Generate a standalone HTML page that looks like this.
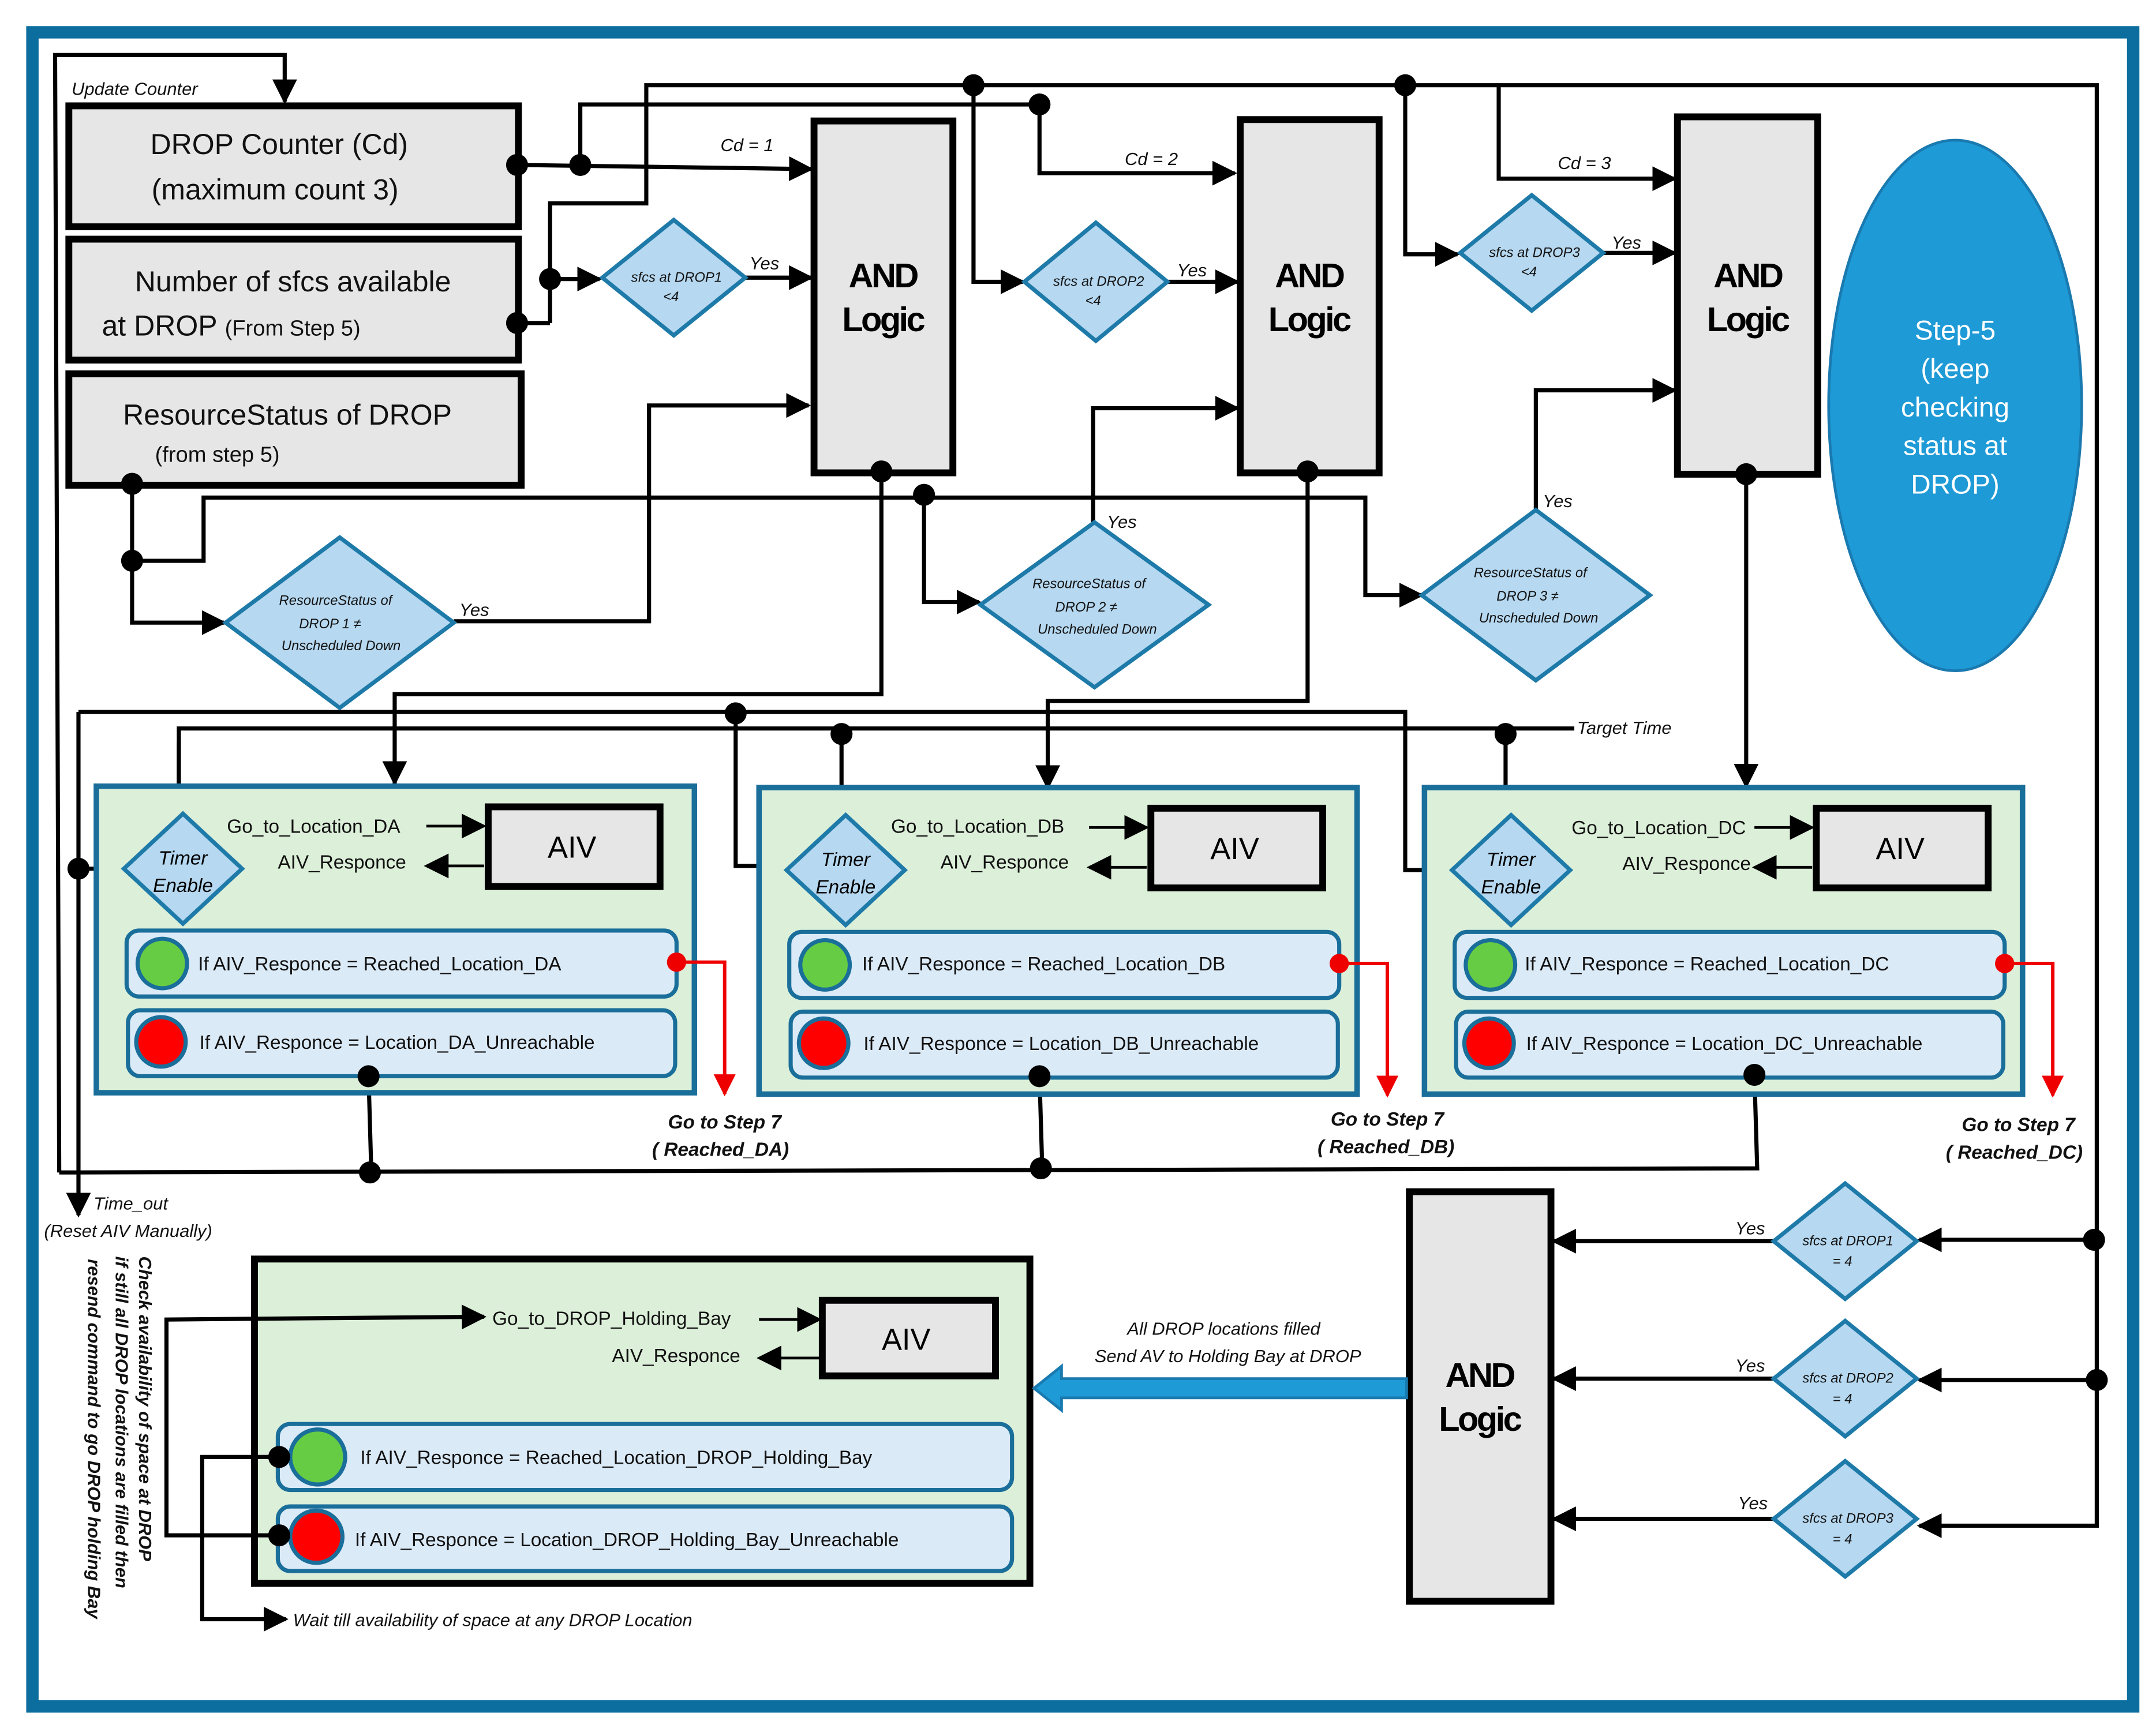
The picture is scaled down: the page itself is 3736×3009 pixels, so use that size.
<!DOCTYPE html>
<html><head><meta charset="utf-8"><style>
html,body{margin:0;padding:0;background:#fff;}
svg{display:block;}
text{font-family:"Liberation Sans",sans-serif;}
</style></head><body>
<svg width="3736" height="3009" viewBox="0 0 1568 1263" xmlns="http://www.w3.org/2000/svg">
<defs>
<marker id="b" viewBox="0 0 10 10" refX="9" refY="5" markerWidth="18" markerHeight="18" markerUnits="userSpaceOnUse" orient="auto"><path d="M0,0 L10,5 L0,10z" fill="#000"/></marker>
<marker id="r" viewBox="0 0 10 10" refX="9" refY="5" markerWidth="16" markerHeight="16" markerUnits="userSpaceOnUse" orient="auto"><path d="M0,0 L10,5 L0,10z" fill="#e00"/></marker>
</defs>
<rect x="0" y="0" width="1568" height="1263" fill="#fff"/>
<rect x="23.5" y="23.5" width="1528" height="1218" fill="#fff" stroke="#0b6e9e" stroke-width="9"/>

<g fill="none" stroke="#000" stroke-width="3">
<polyline points="43,853 40,40 207,40 207,74" marker-end="url(#b)"/>
<polyline points="43,853 1278,850 1276,782"/>
<polyline points="57,518 1022,518 1022,633 1053,633"/>
<polyline points="57,518 57,884" marker-end="url(#b)"/>
<line x1="57" y1="632" x2="90" y2="632"/>
<polyline points="535,518 535,630 570,630"/>
<polyline points="130,570 130,530 1145,530"/>
<line x1="130" y1="540" x2="130" y2="590" marker-end="url(#b)"/>
<line x1="612" y1="530" x2="612" y2="592" marker-end="url(#b)"/>
<line x1="1095" y1="530" x2="1095" y2="593" marker-end="url(#b)"/>
<polyline points="400,235 400,148 470,148 470,62 1525,62 1525,1110 1396,1110" marker-end="url(#b)"/>
<line x1="376" y1="235" x2="400" y2="235"/>
<line x1="400" y1="203" x2="436" y2="203" marker-end="url(#b)"/>
<line x1="376" y1="120" x2="590" y2="123" marker-end="url(#b)"/>
<polyline points="422,120 422,76 756,76 756,126 898,126" marker-end="url(#b)"/>
<polyline points="708,62 708,205 744,205" marker-end="url(#b)"/>
<polyline points="1022,62 1022,185 1060,185" marker-end="url(#b)"/>
<polyline points="1090,62 1090,130 1218,130" marker-end="url(#b)"/>
<line x1="542" y1="202" x2="590" y2="202" marker-end="url(#b)"/>
<line x1="849" y1="205" x2="900" y2="205" marker-end="url(#b)"/>
<line x1="1166" y1="184" x2="1218" y2="184" marker-end="url(#b)"/>
<polyline points="96,352 96,453 163,453" marker-end="url(#b)"/>
<polyline points="96,408 148,408 148,362 993,362 993,433 1034,433" marker-end="url(#b)"/>
<polyline points="672,360 672,438 712,438" marker-end="url(#b)"/>
<polyline points="330,452 472,452 472,295 588,295" marker-end="url(#b)"/>
<polyline points="795,380 795,297 900,297" marker-end="url(#b)"/>
<polyline points="1117,372 1117,284 1218,284" marker-end="url(#b)"/>
<polyline points="641,343 641,505 287,505 287,570" marker-end="url(#b)"/>
<polyline points="951,343 951,510 762,510 762,573" marker-end="url(#b)"/>
<line x1="1270" y1="345" x2="1270" y2="572" marker-end="url(#b)"/>
<line x1="268" y1="783" x2="270" y2="853"/>
<line x1="756" y1="783" x2="758" y2="850"/>
<line x1="1525" y1="902" x2="1396" y2="902" marker-end="url(#b)"/>
<line x1="1525" y1="1004" x2="1396" y2="1004" marker-end="url(#b)"/>
<line x1="1290" y1="903" x2="1130" y2="903" marker-end="url(#b)"/>
<line x1="1290" y1="1003" x2="1130" y2="1003" marker-end="url(#b)"/>
<line x1="1290" y1="1105" x2="1130" y2="1105" marker-end="url(#b)"/>
</g>

<g stroke="#000" stroke-width="5" fill="#e6e6e6">
<rect x="50" y="77" width="327" height="88"/>
<rect x="50" y="174" width="327" height="88"/>
<rect x="50" y="272" width="329" height="81"/>
<rect x="592" y="88" width="101" height="256"/>
<rect x="902" y="87" width="101" height="257"/>
<rect x="1220" y="85" width="102" height="260"/>
<rect x="1025" y="867" width="103" height="298"/>
</g>
<g font-size="21" text-anchor="middle" fill="#111">
<text x="203" y="112">DROP Counter (Cd)</text>
<text x="200" y="145">(maximum count 3)</text>
<text x="213" y="212">Number of sfcs available</text>
<text x="74" y="244" text-anchor="start">at DROP <tspan font-size="16">(From Step 5)</tspan></text>
<text x="209" y="309">ResourceStatus of DROP</text>
<text x="158" y="336" font-size="16">(from step 5)</text>
</g>
<g font-size="25" font-weight="bold" text-anchor="middle" fill="#000" letter-spacing="-1.5">
<text x="642" y="209">AND</text><text x="642" y="241">Logic</text>
<text x="952" y="209">AND</text><text x="952" y="241">Logic</text>
<text x="1271" y="209">AND</text><text x="1271" y="241">Logic</text>
<text x="1076" y="1009">AND</text><text x="1076" y="1041">Logic</text>
</g>

<g fill="#b6d8f0" stroke="#1e7aa8" stroke-width="3">
<polygon points="490,160 542,202 490,244 438,202"/>
<polygon points="797,162 849,205 797,248 745,205"/>
<polygon points="1114,142 1166,184 1114,226 1062,184"/>
<polygon points="247,391 330,453 247,515 164,453"/>
<polygon points="796,380 879,440 796,500 713,440"/>
<polygon points="1117,371 1200,433 1117,495 1034,433"/>
<polygon points="1342,861 1394,903 1342,945 1290,903"/>
<polygon points="1342,961 1394,1003 1342,1045 1290,1003"/>
<polygon points="1342,1063 1394,1105 1342,1147 1290,1105"/>
</g>
<g font-size="10" font-style="italic" text-anchor="middle" fill="#111">
<text x="492" y="205">sfcs at DROP1</text><text x="488" y="219">&lt;4</text>
<text x="799" y="208">sfcs at DROP2</text><text x="795" y="222">&lt;4</text>
<text x="1116" y="187">sfcs at DROP3</text><text x="1112" y="201">&lt;4</text>
<text x="244" y="440">ResourceStatus of</text><text x="240" y="457">DROP 1 ≠</text><text x="248" y="473">Unscheduled Down</text>
<text x="792" y="428">ResourceStatus of</text><text x="790" y="445">DROP 2 ≠</text><text x="798" y="461">Unscheduled Down</text>
<text x="1113" y="420">ResourceStatus of</text><text x="1111" y="437">DROP 3 ≠</text><text x="1119" y="453">Unscheduled Down</text>
<text x="1344" y="906">sfcs at DROP1</text><text x="1340" y="921">= 4</text>
<text x="1344" y="1006">sfcs at DROP2</text><text x="1340" y="1021">= 4</text>
<text x="1344" y="1108">sfcs at DROP3</text><text x="1340" y="1123">= 4</text>
</g>
<g font-size="13" font-style="italic" fill="#111">
<text x="52" y="69">Update Counter</text>
<text x="524" y="110">Cd = 1</text>
<text x="818" y="120">Cd = 2</text>
<text x="1133" y="123">Cd = 3</text>
<text x="545" y="196">Yes</text><text x="856" y="201">Yes</text><text x="1172" y="181">Yes</text>
<text x="334" y="448">Yes</text><text x="805" y="384">Yes</text><text x="1122" y="369">Yes</text>
<text x="1262" y="898">Yes</text><text x="1262" y="998">Yes</text><text x="1264" y="1098">Yes</text>
<text x="1147" y="534">Target Time</text>
<text x="68" y="880">Time_out</text>
<text x="32" y="900">(Reset AIV Manually)</text>
<text x="213" y="1183">Wait till availability of space at any DROP Location</text>
<text x="890" y="971" text-anchor="middle">All DROP locations filled</text>
<text x="893" y="991" text-anchor="middle">Send AV to Holding Bay at DROP</text>
</g>

<ellipse cx="1422" cy="295" rx="92" ry="193" fill="#1e9ad6" stroke="#1a7ab0" stroke-width="2"/>
<g font-size="20" fill="#fff" text-anchor="middle">
<text x="1422" y="247">Step-5</text><text x="1422" y="275">(keep</text><text x="1422" y="303">checking</text><text x="1422" y="331">status at</text><text x="1422" y="359">DROP)</text>
</g>

<g id="ga">
<rect x="70" y="572" width="435" height="223" fill="#dcefd9" stroke="#1a6e9a" stroke-width="4"/>
<polygon points="133,592 176,632 133,672 90,632" fill="#b6d8f0" stroke="#1e7aa8" stroke-width="3"/>
<text x="133" y="629" font-size="14" font-style="italic" text-anchor="middle">Timer</text>
<text x="133" y="649" font-size="14" font-style="italic" text-anchor="middle">Enable</text>
<rect x="355" y="587" width="125" height="58" fill="#e6e6e6" stroke="#000" stroke-width="5"/>
<text x="416" y="624" font-size="22" text-anchor="middle">AIV</text>
<line x1="310" y1="601" x2="352" y2="601" stroke="#000" stroke-width="2" marker-end="url(#b)"/>
<line x1="352" y1="630" x2="310" y2="630" stroke="#000" stroke-width="2" marker-end="url(#b)"/>
<rect x="92" y="677" width="400" height="48" rx="9" fill="#dbeaf7" stroke="#1a6e9a" stroke-width="3"/>
<rect x="93" y="735" width="398" height="48" rx="9" fill="#dbeaf7" stroke="#1a6e9a" stroke-width="3"/>
<circle cx="118" cy="701" r="18" fill="#66cc44" stroke="#1a6e9a" stroke-width="3"/>
<circle cx="117" cy="758" r="18" fill="#f00" stroke="#1a6e9a" stroke-width="3"/>
<polyline points="492,700 527,700 527,796" fill="none" stroke="#e00" stroke-width="2.5" marker-end="url(#r)"/>
<circle cx="492" cy="700" r="7" fill="#e00"/>
</g>
<g font-size="14" fill="#111">
<text x="165" y="606">Go_to_Location_DA</text><text x="202" y="632">AIV_Responce</text>
<text x="144" y="706">If AIV_Responce = Reached_Location_DA</text>
<text x="145" y="763">If AIV_Responce = Location_DA_Unreachable</text>
</g>
<use href="#ga" x="482" y="1"/>
<g font-size="14" fill="#111">
<text x="648" y="606">Go_to_Location_DB</text><text x="684" y="632">AIV_Responce</text>
<text x="627" y="706">If AIV_Responce = Reached_Location_DB</text>
<text x="628" y="764">If AIV_Responce = Location_DB_Unreachable</text>
</g>
<use href="#ga" x="966" y="1"/>
<g font-size="14" fill="#111">
<text x="1143" y="607">Go_to_Location_DC</text><text x="1180" y="633">AIV_Responce</text>
<text x="1109" y="706">If AIV_Responce = Reached_Location_DC</text>
<text x="1110" y="764">If AIV_Responce = Location_DC_Unreachable</text>
</g>
<g font-size="14" font-style="italic" font-weight="bold" fill="#111" text-anchor="middle">
<text x="527" y="821">Go to Step 7</text><text x="524" y="841">( Reached_DA)</text>
<text x="1009" y="819">Go to Step 7</text><text x="1008" y="839">( Reached_DB)</text>
<text x="1468" y="823">Go to Step 7</text><text x="1465" y="843">( Reached_DC)</text>
</g>

<rect x="185" y="916" width="564" height="236" fill="#dcefd9" stroke="#000" stroke-width="5"/>
<rect x="598" y="946" width="126" height="55" fill="#e6e6e6" stroke="#000" stroke-width="5"/>
<text x="659" y="982" font-size="22" text-anchor="middle">AIV</text>
<line x1="552" y1="960" x2="596" y2="960" stroke="#000" stroke-width="2" marker-end="url(#b)"/>
<line x1="596" y1="988" x2="552" y2="988" stroke="#000" stroke-width="2" marker-end="url(#b)"/>
<rect x="202" y="1036" width="534" height="48" rx="9" fill="#dbeaf7" stroke="#1a6e9a" stroke-width="3"/>
<rect x="202" y="1096" width="534" height="47" rx="9" fill="#dbeaf7" stroke="#1a6e9a" stroke-width="3"/>
<circle cx="231" cy="1060" r="20" fill="#66cc44" stroke="#1a6e9a" stroke-width="3"/>
<circle cx="230" cy="1118" r="19" fill="#f00" stroke="#1a6e9a" stroke-width="3"/>
<g fill="none" stroke="#000" stroke-width="3">
<polyline points="203,1117 121,1117 121,960 352,958" marker-end="url(#b)"/>
<polyline points="203,1060 147,1060 147,1178 208,1178" marker-end="url(#b)"/>
</g>
<g font-size="14" fill="#111">
<text x="358" y="964">Go_to_DROP_Holding_Bay</text>
<text x="445" y="991">AIV_Responce</text>
<text x="262" y="1065">If AIV_Responce = Reached_Location_DROP_Holding_Bay</text>
<text x="258" y="1125">If AIV_Responce = Location_DROP_Holding_Bay_Unreachable</text>
</g>
<g font-size="13" font-style="italic" font-weight="bold" fill="#111">
<text transform="translate(101,914) rotate(90)">Check availability of space at DROP</text>
<text transform="translate(84,914) rotate(90)">if still all DROP locations are filled then</text>
<text transform="translate(64,916) rotate(90)">resend command to go DROP holding Bay</text>
</g>

<polygon points="1023,1003 772,1003 772,994 752,1010 772,1026 772,1017 1023,1017" fill="#1e9ad6" stroke="#1a7ab0" stroke-width="2"/>

<g fill="#000">
<circle cx="376" cy="120" r="8"/><circle cx="422" cy="120" r="8"/>
<circle cx="400" cy="203" r="8"/><circle cx="376" cy="235" r="8"/>
<circle cx="708" cy="62" r="8"/><circle cx="756" cy="76" r="8"/><circle cx="1022" cy="62" r="8"/>
<circle cx="96" cy="352" r="8"/><circle cx="96" cy="408" r="8"/><circle cx="672" cy="360" r="8"/>
<circle cx="641" cy="343" r="8"/><circle cx="951" cy="343" r="8"/><circle cx="1270" cy="345" r="8"/>
<circle cx="535" cy="519" r="8"/><circle cx="612" cy="534" r="8"/><circle cx="1095" cy="534" r="8"/>
<circle cx="57" cy="632" r="8"/>
<circle cx="268" cy="783" r="8"/><circle cx="756" cy="783" r="8"/><circle cx="1276" cy="782" r="8"/>
<circle cx="269" cy="853" r="8"/><circle cx="757" cy="850" r="8"/>
<circle cx="1523" cy="902" r="8"/><circle cx="1525" cy="1004" r="8"/>
<circle cx="203" cy="1060" r="8"/><circle cx="203" cy="1117" r="8"/>
</g>
</svg>
</body></html>
